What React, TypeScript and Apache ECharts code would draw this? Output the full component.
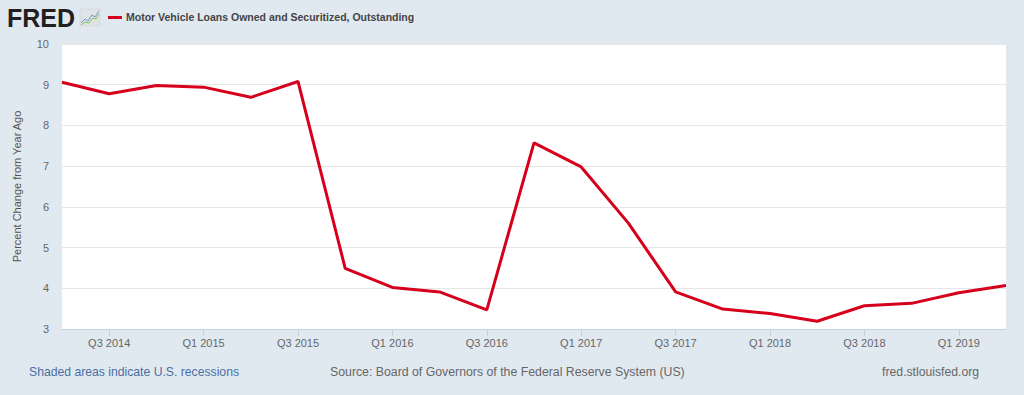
import React, { useEffect, useRef } from "react";
import * as echarts from "echarts";

const categories = [
  "Q2 2014", "Q3 2014", "Q4 2014",
  "Q1 2015", "Q2 2015", "Q3 2015", "Q4 2015",
  "Q1 2016", "Q2 2016", "Q3 2016", "Q4 2016",
  "Q1 2017", "Q2 2017", "Q3 2017", "Q4 2017",
  "Q1 2018", "Q2 2018", "Q3 2018", "Q4 2018",
  "Q1 2019", "Q2 2019",
];
const values = [
  9.06, 8.78, 8.98,
  8.94, 8.69, 9.08, 4.49,
  4.02, 3.91, 3.47, 7.57,
  6.98, 5.6, 3.91, 3.49,
  3.38, 3.19, 3.57, 3.63,
  3.89, 4.07,
];
const seriesName = "Motor Vehicle Loans Owned and Securitized, Outstanding";
const yAxisName = "Percent Change from Year Ago";

export default function App() {
  const ref = useRef<HTMLDivElement>(null);
  useEffect(() => {
    if (!ref.current) return;
    const chart = echarts.init(ref.current, null, { renderer: "svg" });
    const font = "'Liberation Sans', Arial, sans-serif";
    chart.setOption({
      animation: false,
      backgroundColor: "#e1e9f0",
      textStyle: { fontFamily: font },
      grid: { left: 62, right: 18, top: 44, bottom: 66 },
      xAxis: {
        type: "category",
        data: categories,
        boundaryGap: false,
        axisLine: { show: true, lineStyle: { color: "#c4d2e2", width: 1 } },
        axisTick: {
          show: true,
          length: 7,
          lineStyle: { color: "#c4d2e2" },
          interval: (i: number) => i % 2 === 1,
        },
        axisLabel: {
          color: "#666",
          fontSize: 11,
          margin: 8,
          interval: (i: number) => i % 2 === 1,
        },
        splitLine: { show: false },
      },
      yAxis: {
        type: "value",
        min: 3,
        max: 10,
        interval: 1,
        name: yAxisName,
        nameLocation: "middle",
        nameGap: 40,
        nameTextStyle: { color: "#555", fontSize: 11 },
        axisLine: { show: false },
        axisTick: { show: false },
        axisLabel: { color: "#666", fontSize: 11, margin: 13 },
        splitLine: { show: true, lineStyle: { color: "#e6e6e6", width: 1 } },
      },
      series: [
        {
          name: seriesName,
          type: "line",
          data: values,
          showSymbol: false,
          symbol: "none",
          lineStyle: { color: "#d6001c", width: 3 },
          itemStyle: { color: "#d6001c" },
          z: 5,
        },
      ],
      graphic: [
        {
          type: "rect",
          left: 62,
          top: 44,
          shape: { width: 944, height: 285 },
          style: { fill: "#ffffff" },
          z: -10,
          silent: true,
        },
        {
          type: "text",
          left: 7,
          top: 5,
          style: {
            text: "FRED",
            fontSize: 25,
            fontWeight: 900,
            fontFamily: "'Liberation Sans', Arial, sans-serif",
            fill: "#231f20",
          },
        },
        {
          type: "rect",
          shape: { x: 80, y: 9, width: 20, height: 17 },
          style: { fill: "#dfe3e6", stroke: "#c8ced3", lineWidth: 0.5 },
        },
        {
          type: "polyline",
          shape: { points: [[81, 23], [85, 19], [88, 21], [92, 15], [95, 17], [99, 11]] },
          style: { stroke: "#6f9ccc", lineWidth: 1, fill: null },
        },
        {
          type: "polyline",
          shape: { points: [[81, 25], [85, 22], [89, 23], [93, 18], [96, 19], [99, 14]] },
          style: { stroke: "#8cbf5a", lineWidth: 1, fill: null },
        },
        {
          type: "rect",
          shape: { x: 108, y: 16, width: 14, height: 3 },
          style: { fill: "#d6001c" },
        },
        {
          type: "text",
          left: 126,
          top: 11,
          style: {
            text: seriesName,
            fontSize: 10.5,
            fontWeight: "bold",
            fontFamily: font,
            fill: "#444",
          },
        },
        {
          type: "text",
          left: 29,
          top: 366,
          style: {
            text: "Shaded areas indicate U.S. recessions",
            fontSize: 12.2,
            fontFamily: font,
            fill: "#4a6fa5",
          },
        },
        {
          type: "text",
          left: 330,
          top: 366,
          style: {
            text: "Source: Board of Governors of the Federal Reserve System (US)",
            fontSize: 12.3,
            fontFamily: font,
            fill: "#666",
          },
        },
        {
          type: "text",
          right: 45,
          top: 366,
          style: {
            text: "fred.stlouisfed.org",
            fontSize: 12.2,
            fontFamily: font,
            fill: "#666",
          },
        },
      ],
    });
    return () => chart.dispose();
  }, []);
  return (
    <div
      ref={ref}
      style={{ position: "fixed", left: 0, top: 0, width: 1024, height: 395 }}
    />
  );
}
